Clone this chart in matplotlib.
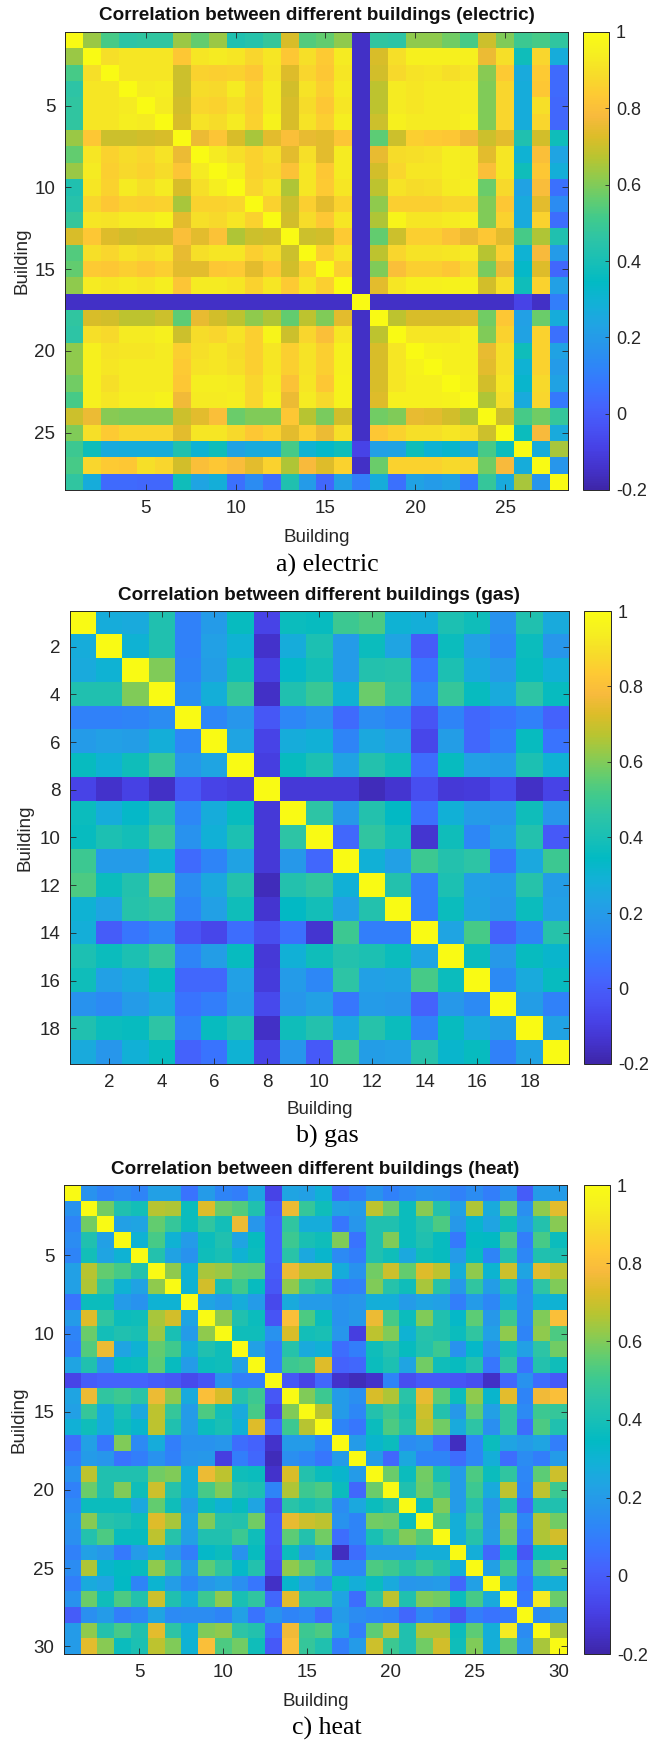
import numpy as np
import matplotlib
matplotlib.use("Agg")
import matplotlib.pyplot as plt
from matplotlib.colors import LinearSegmentedColormap

plt.rcParams['font.family'] = ['Liberation Sans', 'DejaVu Sans']

# === 1. Data: upper triangle of each matrix, row by row ===
electric = [
    [.63,.52,.46,.47,.47,.63,.56,.63,.42,.44,.48,.72,.54,.56,.62,-.15,.47,.46,.62,.62,.58,.52,.70,.60,.50,.52,.47],
    [.90,.92,.92,.92,.83,.92,.93,.92,.87,.92,.83,.90,.84,.93,-.15,.72,.90,.95,.95,.95,.95,.76,.90,.38,.87,.27],
    [.92,.92,.92,.70,.86,.85,.86,.83,.91,.73,.87,.83,.92,-.15,.71,.88,.91,.92,.90,.92,.61,.84,.26,.84,.04],
    [.93,.94,.70,.89,.88,.93,.86,.93,.71,.91,.85,.93,-.15,.68,.93,.92,.93,.93,.94,.60,.87,.27,.83,.04],
    [.93,.71,.87,.86,.90,.85,.93,.72,.89,.83,.92,-.15,.68,.93,.92,.93,.93,.94,.60,.87,.27,.90,.03],
    [.72,.91,.89,.93,.86,.96,.72,.91,.85,.94,-.15,.70,.95,.93,.93,.93,.96,.60,.87,.27,.87,.03],
    [.76,.82,.72,.65,.74,.80,.75,.74,.82,-.15,.55,.70,.85,.84,.83,.77,.70,.74,.42,.71,.38],
    [.93,.90,.86,.90,.74,.90,.74,.93,-.15,.75,.89,.90,.91,.94,.93,.74,.92,.30,.80,.24],
    [.94,.86,.88,.81,.92,.83,.93,-.15,.71,.87,.92,.92,.94,.93,.80,.92,.38,.83,.28],
    [.87,.92,.66,.92,.84,.92,-.15,.68,.91,.89,.90,.93,.94,.57,.88,.23,.79,.06],
    [.86,.70,.85,.74,.86,-.15,.62,.85,.85,.85,.87,.87,.60,.83,.26,.74,.15],
    [.71,.89,.83,.92,-.15,.66,.97,.92,.92,.93,.95,.60,.86,.26,.86,.05],
    [.70,.71,.84,-.15,.56,.70,.85,.85,.81,.76,.83,.74,.52,.66,.42],
    [.85,.92,-.15,.68,.87,.91,.91,.92,.93,.67,.85,.30,.78,.20],
    [.85,-.15,.60,.80,.85,.85,.83,.88,.59,.76,.33,.73,.03],
    [-.15,.74,.92,.95,.95,.96,.96,.71,.90,.38,.86,.22],
    [-.15,-.15,-.15,-.15,-.15,-.15,-.15,-.15,-.08,-.15,.10],
    [.68,.72,.72,.72,.73,.58,.83,.22,.57,.27],
    [.92,.92,.92,.95,.60,.86,.23,.86,.06],
    [.96,.95,.95,.75,.90,.38,.86,.23],
    [.95,.95,.74,.90,.30,.86,.20],
    [.96,.71,.92,.32,.88,.23],
    [.66,.90,.26,.87,.09],
    [.70,.52,.58,.48],
    [.37,.78,.26],
    [.27,.65],
    [.18],
]

gas = [
    [.27,.26,.42,.11,.20,.36,-.08,.37,.36,.50,.53,.30,.28,.41,.38,.17,.42,.26],
    [.30,.42,.11,.22,.30,-.14,.27,.41,.20,.37,.24,.00,.37,.22,.14,.37,.18],
    [.60,.12,.21,.38,-.09,.33,.39,.20,.43,.44,.08,.41,.26,.20,.36,.29],
    [.15,.28,.48,-.15,.42,.49,.30,.57,.47,.13,.48,.36,.26,.46,.36],
    [.13,.18,-.02,.13,.17,.04,.15,.12,-.03,.12,.03,.07,.11,.02],
    [.24,-.08,.27,.29,.12,.25,.22,-.07,.21,.03,.10,.36,.07],
    [-.10,.36,.41,.23,.43,.38,.05,.36,.22,.20,.41,.30],
    [-.12,-.12,-.12,-.17,-.13,-.05,-.12,-.11,-.06,-.15,-.08],
    [.46,.19,.43,.34,.06,.29,.20,.18,.38,.18],
    [.03,.47,.39,-.13,.38,.13,.22,.43,-.01],
    [.29,.22,.50,.43,.46,.08,.25,.50],
    [.43,.10,.41,.22,.20,.44,.21],
    [.10,.37,.23,.19,.37,.22],
    [.24,.52,.02,.12,.44],
    [.37,.19,.36,.32],
    [.14,.26,.36],
    [.21,.11],
    [.23],
]

heat = [
    [.17,.12,.15,.12,.22,.22,.07,.20,.12,.10,.24,-.08,.24,.22,.29,.05,.10,.17,.11,.14,.17,.16,.11,.15,.10,.17,-.00,.20,.20],
    [.58,.42,.39,.67,.66,.37,.73,.57,.54,.42,.00,.76,.48,.38,.22,.20,.68,.57,.37,.61,.43,.22,.66,.26,.57,.16,.62,.74],
    [.22,.24,.56,.48,.37,.47,.39,.76,.18,.02,.47,.27,.27,.08,.18,.42,.42,.37,.44,.53,.19,.32,.24,.38,.20,.43,.61],
    [.30,.52,.30,.20,.37,.42,.24,.36,.02,.50,.40,.38,.60,.07,.42,.60,.37,.42,.36,.09,.35,.34,.53,.10,.52,.37],
    [.43,.23,.17,.38,.40,.30,.37,.02,.45,.25,.32,.14,.10,.42,.38,.25,.38,.36,.20,.36,.12,.43,.13,.42,.41],
    [.62,.30,.65,.63,.56,.55,.00,.76,.68,.68,.27,.17,.58,.70,.56,.73,.68,.28,.62,.31,.70,.24,.74,.68],
    [.30,.71,.40,.51,.36,-.02,.62,.48,.42,.10,.11,.60,.44,.38,.65,.44,.19,.47,.21,.42,.14,.46,.60],
    [.24,.20,.27,.20,-.06,.26,.20,.20,.17,.18,.28,.28,.20,.24,.22,.10,.20,.13,.27,.15,.29,.30],
    [.62,.42,.37,-.03,.80,.53,.37,.17,.19,.76,.52,.37,.60,.42,.33,.55,.19,.50,.15,.60,.80],
    [.38,.38,.17,.72,.39,.40,.18,-.10,.68,.60,.30,.44,.42,.37,.47,.22,.62,.12,.62,.53],
    [.22,.10,.44,.26,.29,.05,.10,.38,.44,.36,.43,.50,.17,.33,.16,.40,.22,.46,.58],
    [.10,.50,.52,.73,.02,.03,.37,.41,.24,.58,.38,.36,.43,.08,.47,.07,.43,.38],
    [-.02,-.08,.03,-.14,-.17,-.14,.12,-.05,-.01,-.01,-.03,-.05,-.15,.03,.17,.05,-.01],
    [.60,.50,.20,.16,.72,.66,.45,.75,.55,.37,.62,.32,.74,.12,.77,.80],
    [.67,.20,.13,.43,.50,.40,.70,.43,.19,.55,.22,.47,.14,.50,.48],
    [.12,.08,.37,.53,.44,.68,.58,.26,.46,.16,.47,.05,.53,.42],
    [.20,.32,.37,.15,.17,.05,-.16,.13,.37,.24,.20,.24,.10],
    [.20,.03,.25,.12,.12,.05,.13,.28,.05,.15,.10,.20],
    [.57,.37,.58,.40,.20,.53,.37,.47,.13,.55,.70],
    [.42,.57,.50,.20,.50,.26,.68,.12,.68,.50],
    [.37,.60,.20,.44,.18,.42,.03,.42,.42],
    [.54,.28,.50,.19,.60,.13,.66,.58],
    [.28,.44,.20,.58,.09,.66,.71],
    [.28,.03,.37,-.02,.37,.38],
    [.22,.52,.10,.55,.60],
    [.26,.07,.28,.28],
    [.09,.93,.57],
    [.15,.18],
    [.65],
]

electric_ticks = [5, 10, 15, 20, 25]
gas_ticks = [2, 4, 6, 8, 10, 12, 14, 16, 18]
heat_ticks = [5, 10, 15, 20, 25, 30]
cbar_ticks = [-0.2, 0, 0.2, 0.4, 0.6, 0.8, 1]
cbar_labels = ['-0.2', '0', '0.2', '0.4', '0.6', '0.8', '1']

# parula, sampled from the MATLAB table
parula = LinearSegmentedColormap.from_list('parula', [
    (0.2422,0.1504,0.6603), (0.2647,0.1978,0.7952), (0.2783,0.2559,0.8991),
    (0.2810,0.3228,0.9579), (0.2699,0.3892,0.9906), (0.2206,0.4603,0.9973),
    (0.1786,0.5289,0.9682), (0.1540,0.5902,0.9218), (0.1248,0.6459,0.8883),
    (0.0689,0.6948,0.8394), (0.0067,0.7312,0.7660), (0.0964,0.7500,0.7120),
    (0.1717,0.7670,0.6554), (0.2470,0.7918,0.5567), (0.3909,0.8029,0.4354),
    (0.5616,0.7942,0.3045), (0.7242,0.7698,0.1910), (0.8634,0.7406,0.1596),
    (0.9728,0.7298,0.2394), (0.9952,0.7893,0.2028), (0.9676,0.8639,0.1643),
    (0.9628,0.9373,0.1265), (0.9769,0.9839,0.0805)], N=256)

W, H = 660, 1742
GREY = '#262626'


def matriz(filas):
    n = len(filas) + 1
    m = np.eye(n)
    for i, fila in enumerate(filas):
        m[i, i + 1:] = fila
        m[i + 1:, i] = fila
    return m


def caja(x0, y0, x1, y1):
    return [x0 / W, 1 - y1 / H, (x1 - x0) / W, (y1 - y0) / H]


def panel(fig, filas, ticks, titulo, pie, box, cbar_box, y_titulo, y_pie, x_ylabel, y_xlabel):
    m = matriz(filas)
    n = m.shape[0]
    ax = fig.add_axes(caja(*box))
    im = ax.imshow(m, cmap=parula, vmin=-0.2, vmax=1, aspect='auto', interpolation='nearest',
                   extent=(0.5, n + 0.5, n + 0.5, 0.5))
    ax.set_xticks(ticks)
    ax.set_yticks(ticks)
    ax.tick_params(direction='in', length=4, width=0.6, top=True, right=True, colors=GREY,
                   labelsize=13.5, pad=7)
    for s in ax.spines.values():
        s.set_linewidth(0.7)
        s.set_color(GREY)
    fig.text((box[0] + box[2]) / 2 / W, 1 - y_xlabel / H, 'Building', ha='center', va='center',
             fontsize=13.5, color=GREY)
    fig.text(x_ylabel / W, 1 - (box[1] + box[3]) / 2 / H, 'Building', rotation=90, ha='center',
             va='center', fontsize=13.5, color=GREY)
    fig.text((box[0] + box[2]) / 2 / W, 1 - y_titulo / H, titulo, ha='center', va='center',
             fontsize=13.6, weight='bold', color='#111111')
    fig.text(327 / W, 1 - y_pie / H, pie, ha='center', va='center', fontsize=18.6,
             family='Liberation Serif', color='black')

    cax = fig.add_axes(caja(*cbar_box))
    cb = fig.colorbar(im, cax=cax, ticks=cbar_ticks)
    cb.ax.set_yticklabels(cbar_labels)
    cb.ax.tick_params(direction='in', length=3, width=0.6, colors=GREY, labelsize=13, pad=5)
    cb.outline.set_linewidth(0.7)
    cb.outline.set_edgecolor(GREY)


# === 2. Figure ===
fig = plt.figure(figsize=(W / 100, H / 100), dpi=100)

panel(fig, electric, electric_ticks, 'Correlation between different buildings (electric)', 'a) electric',
      (65, 32, 568, 490), (583, 32, 609, 490), 16, 565, 22, 537)
panel(fig, gas, gas_ticks, 'Correlation between different buildings (gas)', 'b) gas',
      (70, 611, 569, 1064), (584, 611, 611, 1064), 596, 1136, 25, 1109)
panel(fig, heat, heat_ticks, 'Correlation between different buildings (heat)', 'c) heat',
      (64, 1185, 567, 1654), (584, 1185, 610, 1654), 1169, 1728, 19, 1701)

fig.savefig('out.png', dpi=100)
